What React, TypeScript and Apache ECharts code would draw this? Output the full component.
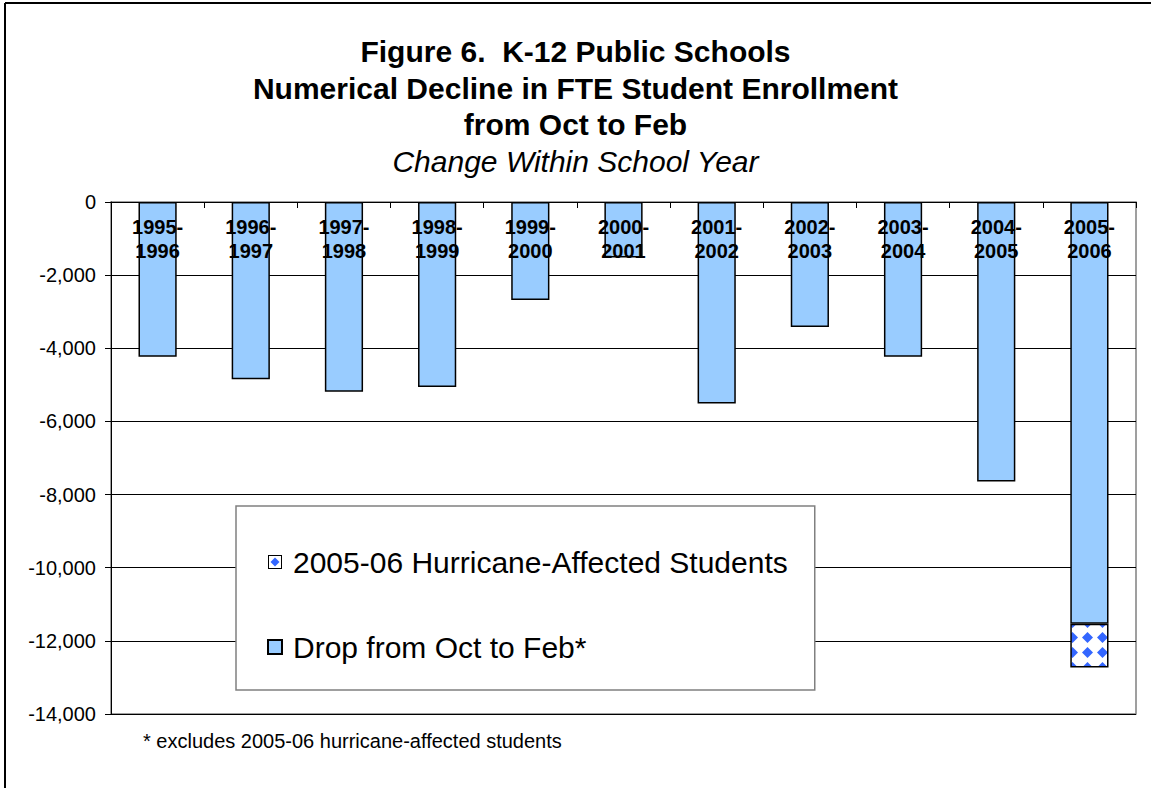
import React, { useEffect, useRef } from "react";
import * as echarts from "echarts";

const categories = [
  "1995-1996", "1996-1997", "1997-1998", "1998-1999", "1999-2000", "2000-2001",
  "2001-2002", "2002-2003", "2003-2004", "2004-2005", "2005-2006",
];
const dropValues = [-4230, -4850, -5190, -5060, -2680, -1520, -5510, -3420, -4230, -7640, -11530];
const hurricaneValues = [null, null, null, null, null, null, null, null, null, null, -1200];
const seriesNames = ["Drop from Oct to Feb*", "2005-06 Hurricane-Affected Students"];
const titleLines = [
  "Figure 6.  K-12 Public Schools",
  "Numerical Decline in FTE Student Enrollment",
  "from Oct to Feb",
];
const subtitle = "Change Within School Year";
const footnote = "* excludes 2005-06 hurricane-affected students";

const FONT = "'Liberation Sans', Arial, sans-serif";

function makePatternCanvas(): HTMLCanvasElement {
  const c = document.createElement("canvas");
  const s = 15;
  c.width = s;
  c.height = s;
  const ctx = c.getContext("2d")!;
  ctx.fillStyle = "#ffffff";
  ctx.fillRect(0, 0, s, s);
  ctx.fillStyle = "#3366FF";
  const m = s / 2;
  const r = 5.5;
  ctx.beginPath();
  ctx.moveTo(m, m - r);
  ctx.lineTo(m + r, m);
  ctx.lineTo(m, m + r);
  ctx.lineTo(m - r, m);
  ctx.closePath();
  ctx.fill();
  return c;
}

function makeIconDataURL(): string {
  const c = document.createElement("canvas");
  c.width = 14;
  c.height = 14;
  const ctx = c.getContext("2d")!;
  ctx.fillStyle = "#ffffff";
  ctx.fillRect(0, 0, 14, 14);
  ctx.strokeStyle = "#000";
  ctx.lineWidth = 1;
  ctx.strokeRect(0.5, 0.5, 13, 13);
  ctx.fillStyle = "#3366FF";
  ctx.beginPath();
  ctx.moveTo(7, 2.5);
  ctx.lineTo(11.5, 7);
  ctx.lineTo(7, 11.5);
  ctx.lineTo(2.5, 7);
  ctx.closePath();
  ctx.fill();
  return c.toDataURL();
}

function addCommas(v: number): string {
  const s = Math.abs(v).toString().replace(/\B(?=(\d{3})+(?!\d))/g, ",");
  return (v < 0 ? "-" : "") + s;
}

export default function App() {
  const ref = useRef<HTMLDivElement>(null);
  useEffect(() => {
    if (!ref.current) return;
    const chart = echarts.init(ref.current, undefined, { renderer: "svg" });
    const patternCanvas = makePatternCanvas();
    const iconURL = makeIconDataURL();
    chart.setOption({
      animation: false,
      backgroundColor: "#ffffff",
      textStyle: { fontFamily: FONT },
      title: [
        {
          text: titleLines.join("\n"),
          left: "center",
          top: 33.5,
          padding: 0,
          textStyle: { fontFamily: FONT, fontSize: 30, fontWeight: "bold", lineHeight: 36.5, color: "#000" },
        },
        {
          text: subtitle,
          left: "center",
          top: 143,
          padding: 0,
          textStyle: { fontFamily: FONT, fontSize: 30, fontWeight: "normal", fontStyle: "italic", lineHeight: 36.5, color: "#000" },
        },
        {
          text: footnote,
          left: 143,
          top: 729,
          padding: 0,
          textStyle: { fontFamily: FONT, fontSize: 20, fontWeight: "normal", lineHeight: 24, color: "#000" },
        },
      ],
      graphic: [
        { type: "line", shape: { x1: 5, y1: 3, x2: 5, y2: 788 }, style: { stroke: "#000", lineWidth: 2 } },
        { type: "line", shape: { x1: 5, y1: 3, x2: 1151, y2: 3 }, style: { stroke: "#000", lineWidth: 2 } },
      ],
      legend: {
        orient: "vertical",
        left: 236,
        top: 506,
        padding: [39, 27, 26, 31],
        borderColor: "#808080",
        borderWidth: 1.5,
        backgroundColor: "#ffffff",
        itemWidth: 14,
        itemHeight: 14,
        itemGap: 51,
        textStyle: { fontFamily: FONT, fontSize: 30, lineHeight: 34, color: "#000", padding: [0, 0, 0, 6] },
        data: [
          { name: seriesNames[1], icon: "image://" + iconURL },
          { name: seriesNames[0], icon: "rect" },
        ],
      },
      grid: {
        left: 111,
        right: 15,
        top: 202,
        bottom: 74,
        show: true,
        borderColor: "#808080",
        borderWidth: 1.5,
      },
      xAxis: {
        type: "category",
        data: categories,
        position: "top",
        z: 10,
        axisLine: { onZero: false, lineStyle: { color: "#000", width: 1 } },
        axisTick: { show: true, inside: true, length: 6, alignWithLabel: false, lineStyle: { color: "#000" } },
        axisLabel: {
          inside: true,
          interval: 0,
          margin: 13,
          color: "#000",
          fontFamily: FONT,
          fontSize: 20,
          fontWeight: "bold",
          lineHeight: 24,
          formatter: (v: string) => v.replace("-", "-\n"),
        },
      },
      yAxis: {
        type: "value",
        min: -14000,
        max: 0,
        interval: 2000,
        axisLine: { show: true, lineStyle: { color: "#000", width: 1 } },
        axisTick: { show: true, length: 6, lineStyle: { color: "#000" } },
        splitLine: { show: true, lineStyle: { color: "#000", width: 1 } },
        axisLabel: {
          margin: 15,
          color: "#000",
          fontFamily: FONT,
          fontSize: 20,
          formatter: (v: number) => addCommas(v),
        },
      },
      series: [
        {
          name: seriesNames[0],
          type: "bar",
          stack: "total",
          barCategoryGap: "59%",
          data: dropValues,
          itemStyle: { color: "#99CCFF", borderColor: "#000", borderWidth: 1.5 },
        },
        {
          name: seriesNames[1],
          type: "bar",
          stack: "total",
          barCategoryGap: "59%",
          data: hurricaneValues,
          itemStyle: {
            color: { image: patternCanvas, repeat: "repeat", imageWidth: 15, imageHeight: 15 },
            borderColor: "#000",
            borderWidth: 1.5,
          },
        },
      ],
    });
    return () => chart.dispose();
  }, []);
  return (
    <div
      ref={ref}
      style={{ position: "fixed", left: 0, top: 0, width: 1151, height: 788, background: "#fff" }}
    />
  );
}
